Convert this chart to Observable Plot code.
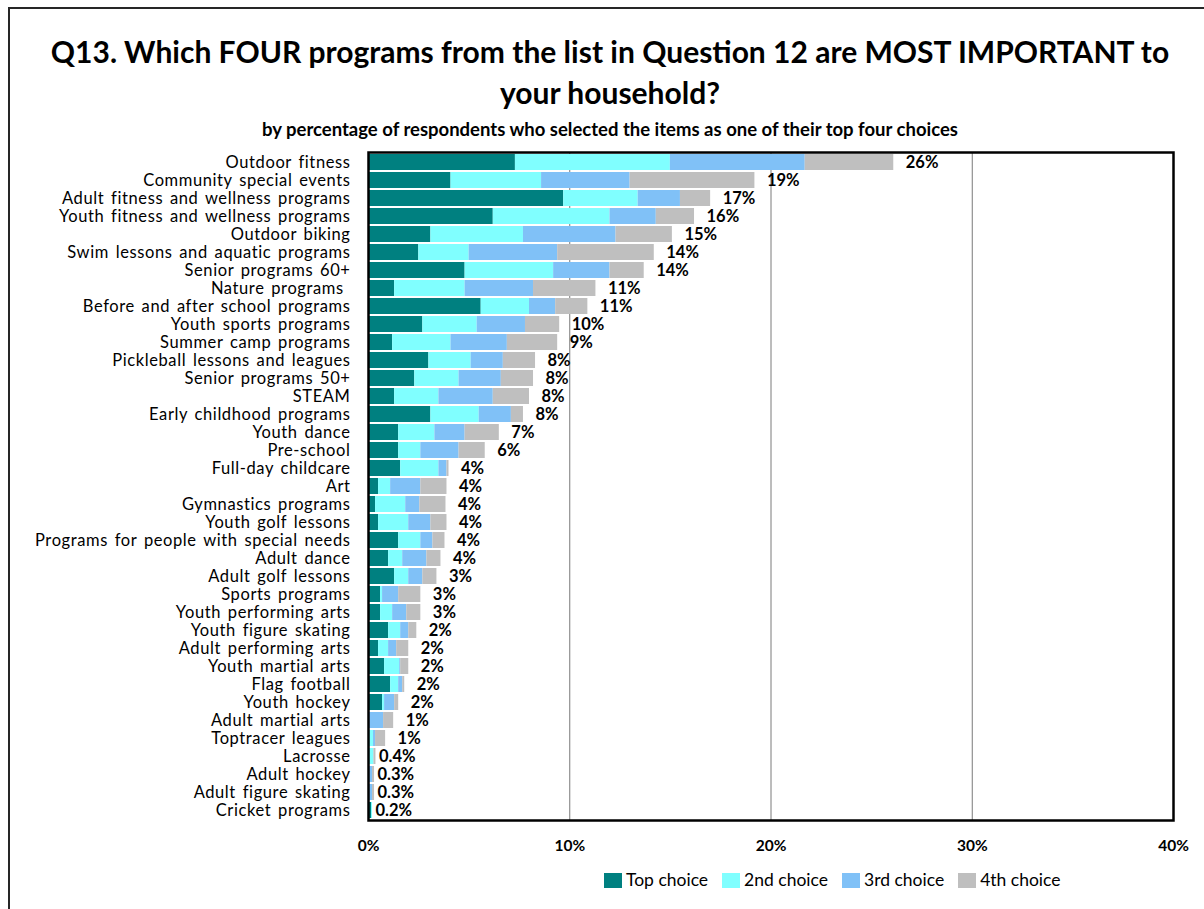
<!DOCTYPE html>
<html>
<head>
<meta charset="utf-8">
<script src="https://cdn.jsdelivr.net/npm/d3@7"></script>
<script src="https://cdn.jsdelivr.net/npm/@observablehq/plot@0.6"></script>
<style>
  html, body { margin: 0; padding: 0; background: #fff; }
  #wrap { position: relative; width: 1204px; height: 909px; overflow: hidden; font-family: Lato, "Open Sans", sans-serif; color: #000; }
  #border { position: absolute; left: 8px; top: 7px; width: 1300px; height: 1000px; border: 2px solid #262626; box-sizing: border-box; }
  #title { position: absolute; left: 10px; width: 1200px; top: 31px; text-align: center; font-weight: bold; font-size: 30px; line-height: 41px; }
  #subtitle { position: absolute; left: 10px; width: 1200px; top: 118px; text-align: center; font-weight: bold; font-size: 18.5px; line-height: 22px; }
  #chart { position: absolute; left: 0; top: 140px; }
  #legend { position: absolute; left: 604px; top: 869px; display: flex; align-items: center; font-size: 17.5px; line-height: 22px; }
  #legend .item { display: flex; align-items: center; margin-right: 14px; }
  #legend .sw { width: 18px; height: 15px; margin-right: 4px; }
  #chart g[aria-label="y-axis tick label"] text { letter-spacing: 0.6px; word-spacing: 2px; }
</style>
</head>
<body>
<div id="wrap">
  <div id="border"></div>
  <div id="title">Q13. Which FOUR programs from the list in Question 12 are MOST IMPORTANT to<br>your household?</div>
  <div id="subtitle">by percentage of respondents who selected the items as one of their top four choices</div>
  <div id="chart"></div>
  <div id="legend"></div>
</div>
<script>
const categories = [
  "Outdoor fitness", "Community special events", "Adult fitness and wellness programs",
  "Youth fitness and wellness programs", "Outdoor biking", "Swim lessons and aquatic programs",
  "Senior programs 60+", "Nature programs ", "Before and after school programs",
  "Youth sports programs", "Summer camp programs", "Pickleball lessons and leagues",
  "Senior programs 50+", "STEAM", "Early childhood programs", "Youth dance", "Pre-school",
  "Full-day childcare", "Art", "Gymnastics programs", "Youth golf lessons",
  "Programs for people with special needs", "Adult dance", "Adult golf lessons",
  "Sports programs", "Youth performing arts", "Youth figure skating", "Adult performing arts",
  "Youth martial arts", "Flag football", "Youth hockey", "Adult martial arts",
  "Toptracer leagues", "Lacrosse", "Adult hockey", "Adult figure skating", "Cricket programs"
];
const topChoice    = [7.3, 4.1, 9.7, 6.2, 3.1, 2.5, 4.8, 1.3, 5.6, 2.7, 1.2, 3.0, 2.3, 1.3, 3.1, 1.5, 1.5, 1.6, 0.5, 0.35, 0.5, 1.5, 1.0, 1.3, 0.6, 0.6, 1.0, 0.5, 0.8, 1.1, 0.7, 0, 0, 0, 0, 0, 0.15];
const secondChoice = [7.7, 4.5, 3.7, 5.8, 4.6, 2.5, 4.4, 3.5, 2.4, 2.7, 2.9, 2.1, 2.2, 2.2, 2.4, 1.8, 1.1, 1.9, 0.6, 1.5, 1.5, 1.1, 0.7, 0.7, 0.1, 0.6, 0.6, 0.5, 0.75, 0.4, 0.1, 0.05, 0.25, 0.27, 0, 0.05, 0.05];
const thirdChoice  = [6.7, 4.4, 2.1, 2.3, 4.6, 4.4, 2.8, 3.4, 1.3, 2.4, 2.8, 1.6, 2.1, 2.7, 1.6, 1.5, 1.9, 0.4, 1.5, 0.7, 1.1, 0.6, 1.2, 0.7, 0.8, 0.7, 0.4, 0.4, 0.05, 0.2, 0.5, 0.7, 0.1, 0, 0.2, 0.15, 0];
const fourthChoice = [4.4, 6.2, 1.5, 1.9, 2.8, 4.8, 1.7, 3.1, 1.6, 1.7, 2.5, 1.6, 1.6, 1.8, 0.6, 1.7, 1.3, 0.1, 1.3, 1.3, 0.8, 0.6, 0.7, 0.7, 1.1, 0.7, 0.4, 0.6, 0.4, 0.1, 0.2, 0.5, 0.5, 0.1, 0.1, 0.1, 0];
const totalLabels  = ["26%", "19%", "17%", "16%", "15%", "14%", "14%", "11%", "11%", "10%", "9%", "8%", "8%", "8%", "8%", "7%", "6%", "4%", "4%", "4%", "4%", "4%", "4%", "3%", "3%", "3%", "2%", "2%", "2%", "2%", "2%", "1%", "1%", "0.4%", "0.3%", "0.3%", "0.2%"];
const choiceNames  = ["Top choice", "2nd choice", "3rd choice", "4th choice"];
const choiceColors = ["#008080", "#80FFFF", "#80C1F7", "#BFBFBF"];
const xTicks = [0, 10, 20, 30, 40];
const gridValues = [10, 20, 30];

const series = [topChoice, secondChoice, thirdChoice, fourthChoice];
const rows = categories.flatMap((c, i) => series.map((s, j) => ({category: c, choice: choiceNames[j], value: s[i]})));
const totals = categories.map((c, i) => ({
  category: c,
  total: series.reduce((a, s) => a + s[i], 0),
  label: totalLabels[i]
}));
const bigTotals = totals.filter(d => !d.label.startsWith("0."));
const smallTotals = totals.filter(d => d.label.startsWith("0."));

const chart = Plot.plot({
  width: 1204,
  height: 720,
  marginLeft: 368,
  marginRight: 31,
  marginTop: 12,
  marginBottom: 40,
  style: {fontFamily: "Lato, 'Open Sans', sans-serif", fontSize: "16px", color: "#000", background: "transparent", overflow: "visible"},
  x: {domain: [0, 40]},
  y: {domain: categories, paddingInner: 0.12, paddingOuter: 0.04},
  color: {domain: choiceNames, range: choiceColors},
  marks: [
    Plot.ruleX(gridValues, {stroke: "#7a7a7a", strokeWidth: 1}),
    Plot.barX(rows, {y: "category", x: "value", fill: "choice", order: choiceNames}),
    Plot.frame({stroke: "#000", strokeWidth: 2.5}),
    Plot.axisX({ticks: xTicks, tickFormat: d => d + "%", tickSize: 0, tickPadding: 19, fontWeight: "bold", fontSize: 15.5, label: null}),
    Plot.axisY({tickSize: 0, tickPadding: 18, fontSize: 16.5, label: null}),
    Plot.text(bigTotals, {x: "total", y: "category", text: "label", textAnchor: "start", dx: 12, fontWeight: "bold", fontSize: 16.5, fill: "#000"}),
    Plot.text(smallTotals, {x: "total", y: "category", text: "label", textAnchor: "start", dx: 3, fontWeight: "bold", fontSize: 16.5, fill: "#000"})
  ]
});
document.getElementById("chart").appendChild(chart);

const legend = document.getElementById("legend");
choiceNames.forEach((name, i) => {
  const item = document.createElement("div");
  item.className = "item";
  const sw = document.createElement("div");
  sw.className = "sw";
  sw.style.background = choiceColors[i];
  const label = document.createElement("span");
  label.textContent = name;
  item.appendChild(sw);
  item.appendChild(label);
  legend.appendChild(item);
});
</script>
</body>
</html>
